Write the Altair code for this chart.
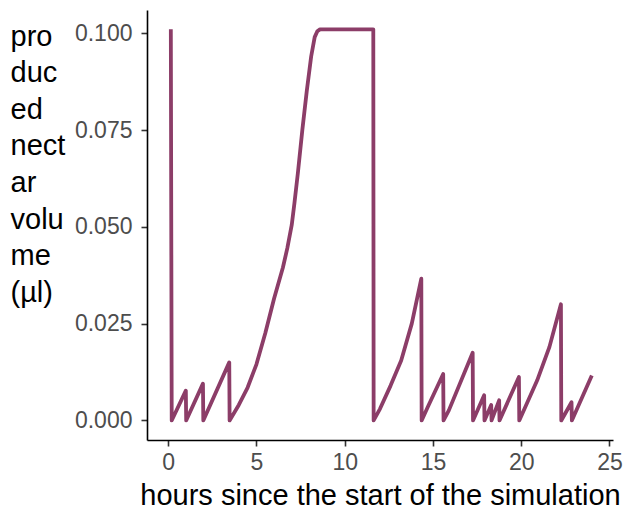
import altair as alt
import pandas as pd

hours = [0.15, 0.2, 1.0, 1.02, 1.97, 1.99, 3.46, 3.48,
         4.0, 4.5, 5.0, 5.5, 6.0, 6.5, 6.75, 7.0, 7.15, 7.35, 7.6, 7.85, 8.1, 8.3, 8.45, 8.6,
         11.62, 11.64, 12.0, 12.6, 13.2, 13.8, 14.34, 14.36,
         14.7, 15.58, 15.6, 15.9, 17.25, 17.27,
         17.9, 17.92, 18.3, 18.32, 18.75, 18.77, 19.87, 19.89,
         20.9, 21.6, 22.25, 22.27, 22.85, 22.87, 24.0]
volume = [0.101, 0.0, 0.0077, 0.0, 0.0095, 0.0, 0.015, 0.0,
          0.004, 0.0085, 0.0145, 0.0225, 0.0315, 0.0395, 0.0445, 0.0505, 0.056, 0.064, 0.075, 0.085, 0.094, 0.099, 0.1005, 0.101,
          0.101, 0.0, 0.003, 0.009, 0.0155, 0.025, 0.0366, 0.0,
          0.0034, 0.012, 0.0, 0.0026, 0.0175, 0.0,
          0.0065, 0.0, 0.004, 0.0, 0.0052, 0.0, 0.0112, 0.0,
          0.0103, 0.019, 0.030, 0.0, 0.0047, 0.0, 0.0116]

x_ticks = [0, 5, 10, 15, 20, 25]
y_ticks = [0.0, 0.025, 0.05, 0.075, 0.1]
y_title = ["pro", "duc", "ed", "nect", "ar", "volu", "me", "(µl)"]

df = pd.DataFrame({"hours": hours, "volume": volume, "order": list(range(len(hours)))})

font = "Liberation Sans"

chart = alt.Chart(df).mark_line(
    color="#8c3d68", strokeWidth=3.8, strokeJoin="round", strokeCap="butt"
).encode(
    x=alt.X("hours:Q",
            scale=alt.Scale(domain=[-1.2, 25.2], nice=False, zero=False),
            axis=alt.Axis(values=x_ticks, title="hours since the start of the simulation",
                          format="d", titleFontSize=29, titleFontWeight="normal",
                          titleColor="black", titleFont=font, titlePadding=7)),
    y=alt.Y("volume:Q",
            scale=alt.Scale(domain=[-0.00505, 0.106], nice=False, zero=False),
            axis=alt.Axis(values=y_ticks, format=".3f", title=y_title,
                          titleAngle=0, titleAlign="left", titleBaseline="alphabetic",
                          titleX=-137, titleY=35, titleLineHeight=36.6,
                          titleFontSize=29, titleFontWeight="normal", titleColor="black",
                          titleFont=font)),
    order="order:Q",
).properties(
    width=466, height=430,
    autosize=alt.AutoSizeParams(type="none"),
    padding={"left": 139, "top": 2, "right": 10, "bottom": 70},
).configure_axis(
    grid=False,
    domainColor="black", domainWidth=1.6,
    tickColor="#333333", tickWidth=1.6, tickSize=6,
    labelFont=font, labelFontSize=23, labelColor="#4d4d4d", labelPadding=5,
).configure_axisY(labelPadding=9).configure_view(stroke=None)

chart.save("out.html", embed_options={"renderer": "svg", "actions": False})
